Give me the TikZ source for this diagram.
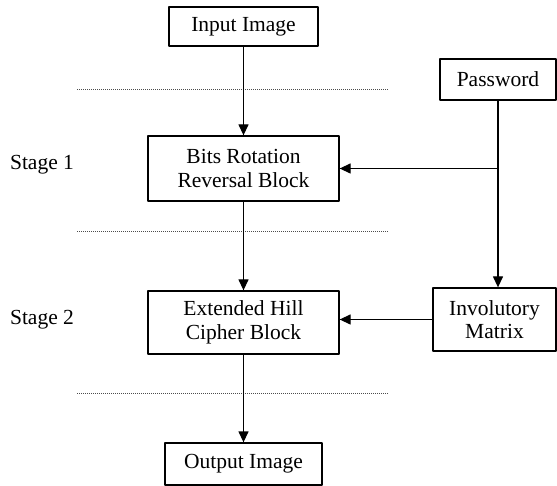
\documentclass[tikz,border=0pt]{standalone}
\usepackage{fontspec}
\setmainfont{Liberation Serif}
\usetikzlibrary{arrows.meta}
\begin{document}
\begin{tikzpicture}[x=1pt, y=-1pt, line join=round, >={Triangle[length=11pt,width=10pt]}, font=\fontsize{21.5}{23.5}\selectfont]
	\tikzset{block/.style={draw, line width=1.3pt, align=center, inner sep=0pt},
		sepline/.style={gray!60!black, line width=1pt, dash pattern=on 1pt off 1pt},
		flow/.style={->, line width=1.3pt}}
	\useasboundingbox (0,0) rectangle (557,486);
	\node[block, minimum width=149pt, minimum height=39pt] (input) at (243.5,26.5) {Input Image};
	\node[block, minimum width=116pt, minimum height=41pt] (pw) at (498,79.5) {Password};
	\node[block, minimum width=191pt, minimum height=65pt] (bits) at (243.5,168.5) {Bits Rotation\\Reversal Block};
	\node[block, minimum width=191pt, minimum height=63pt] (hill) at (243.5,322.5) {Extended Hill\\Cipher Block};
	\node[block, minimum width=123pt, minimum height=63pt] (inv) at (494.5,319.5) {Involutory\\Matrix};
	\node[block, minimum width=157pt, minimum height=42pt] (output) at (243.5,464) {Output Image};
	\node (st1) at (42,165) {Stage 1};
	\node (st2) at (42,320) {Stage 2};
	\coordinate (junc) at (pw.south |- bits.east);
	\foreach \y in {90,232,393}
		\draw[sepline] (77,\y) -- (388,\y);
	\draw[flow] (input) -- (bits);
	\draw[flow] (bits) -- (hill);
	\draw[flow] (hill) -- (output);
	\draw[flow] (pw.south) -- (pw.south |- inv.north);
	\draw[flow] (junc) -- (bits.east);
	\draw[flow] (inv.west) -- (inv.west -| hill.east);
\end{tikzpicture}
\end{document}
